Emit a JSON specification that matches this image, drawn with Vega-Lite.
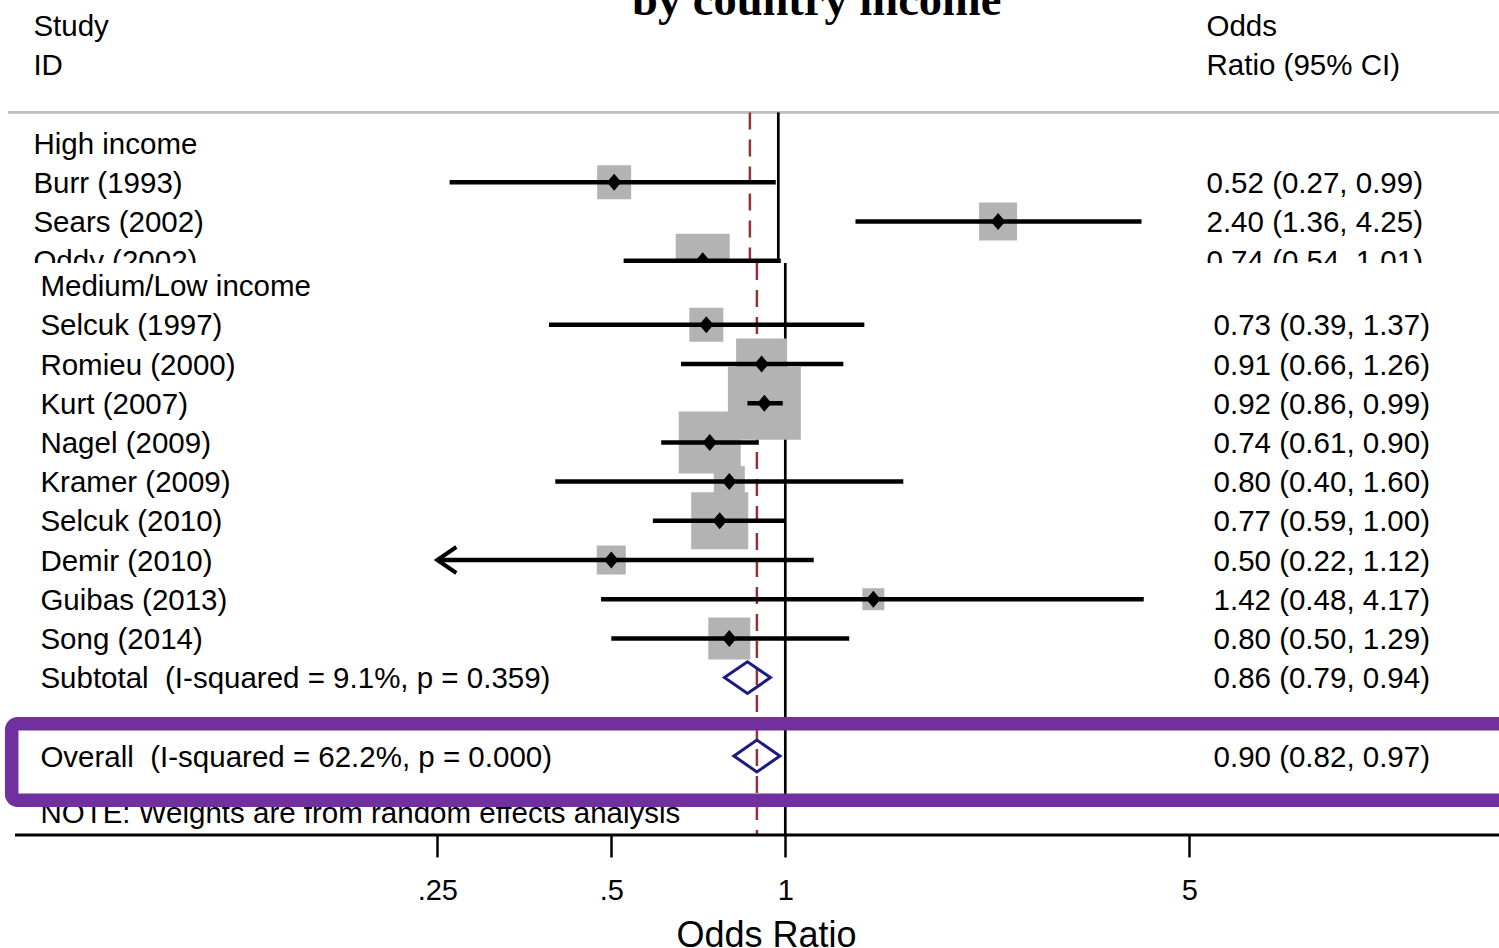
{
  "$schema": "https://vega.github.io/schema/vega-lite/v6.json",
  "padding": 0,
  "autosize": {"type": "pad"},
  "spacing": 0,
  "background": "white",
  "config": {"view": {"stroke": null}, "axis": {"grid": false}},
  "resolve": {"scale": {"x": "independent", "y": "independent"}},
  "datasets": {
    "top": [
      {"row": -3, "label": "Study", "ortext": "Odds", "type": "header"},
      {"row": -2, "label": "ID", "ortext": "Ratio (95% CI)", "type": "header"},
      {"row": 0, "label": "High income", "type": "group"},
      {"row": 1, "label": "Burr (1993)", "ortext": "0.52 (0.27, 0.99)", "es": 0.52, "lo": 0.27, "hi": 0.99, "w": 4.49, "type": "study"},
      {"row": 2, "label": "Sears (2002)", "ortext": "2.40 (1.36, 4.25)", "es": 2.40, "lo": 1.36, "hi": 4.25, "w": 5.61, "type": "study"},
      {"row": 3, "label": "Oddy (2002)", "ortext": "0.74 (0.54, 1.01)", "es": 0.74, "lo": 0.54, "hi": 1.01, "w": 11.33, "type": "study"}
    ],
    "bottom": [
      {"row": 0, "label": "Medium/Low income", "type": "group"},
      {"row": 1, "label": "Selcuk (1997)", "ortext": "0.73 (0.39, 1.37)", "es": 0.73, "lo": 0.39, "hi": 1.37, "w": 4.49, "type": "study"},
      {"row": 2, "label": "Romieu (2000)", "ortext": "0.91 (0.66, 1.26)", "es": 0.91, "lo": 0.66, "hi": 1.26, "w": 10.10, "type": "study"},
      {"row": 3, "label": "Kurt (2007)", "ortext": "0.92 (0.86, 0.99)", "es": 0.92, "lo": 0.86, "hi": 0.99, "w": 20.70, "type": "study"},
      {"row": 4, "label": "Nagel (2009)", "ortext": "0.74 (0.61, 0.90)", "es": 0.74, "lo": 0.61, "hi": 0.90, "w": 14.93, "type": "study"},
      {"row": 5, "label": "Kramer (2009)", "ortext": "0.80 (0.40, 1.60)", "es": 0.80, "lo": 0.40, "hi": 1.60, "w": 3.73, "type": "study"},
      {"row": 6, "label": "Selcuk (2010)", "ortext": "0.77 (0.59, 1.00)", "es": 0.77, "lo": 0.59, "hi": 1.00, "w": 12.62, "type": "study"},
      {"row": 7, "label": "Demir (2010)", "ortext": "0.50 (0.22, 1.12)", "es": 0.50, "lo": 0.22, "hi": 1.12, "w": 3.27, "type": "study"},
      {"row": 8, "label": "Guibas (2013)", "ortext": "1.42 (0.48, 4.17)", "es": 1.42, "lo": 0.48, "hi": 4.17, "w": 1.88, "type": "study"},
      {"row": 9, "label": "Song (2014)", "ortext": "0.80 (0.50, 1.29)", "es": 0.80, "lo": 0.50, "hi": 1.29, "w": 6.85, "type": "study"},
      {"row": 10, "label": "Subtotal \u00a0(I-squared = 9.1%, p = 0.359)", "ortext": "0.86 (0.79, 0.94)", "es": 0.86, "lo": 0.79, "hi": 0.94, "type": "subtotal"},
      {"row": 12, "label": "Overall \u00a0(I-squared = 62.2%, p = 0.000)", "ortext": "0.90 (0.82, 0.97)", "es": 0.893, "lo": 0.82, "hi": 0.97, "type": "overall"},
      {"row": 13.44, "label": "NOTE: Weights are from random effects analysis", "type": "note"}
    ]
  },
  "vconcat": [
    {
      "width": 1499,
      "height": 263,
      "data": {"name": "top"},
      "layer": [
        {
          "data": {"values": [{}]},
          "mark": {"type": "rule", "color": "#bebebe", "strokeWidth": 2.7, "clip": true},
          "encoding": {
            "x": {"datum": 0.04647, "type": "quantitative", "scale": {"type": "log", "domain": [0.045029, 17.654], "nice": false}, "axis": null},
            "x2": {"datum": 17.654},
            "y": {"datum": -0.783, "type": "quantitative", "scale": {"domain": [-3.651, 3.0587], "reverse": true, "nice": false, "zero": false}, "axis": null}
          }
        },
        {
          "data": {"values": [{}]},
          "mark": {"type": "rule", "color": "#000", "strokeWidth": 2.7, "clip": true},
          "encoding": {
            "x": {"datum": 1, "type": "quantitative", "scale": {"type": "log", "domain": [0.045029, 17.654], "nice": false}, "axis": null},
            "y": {"datum": -0.783, "type": "quantitative", "scale": {"domain": [-3.651, 3.0587], "reverse": true, "nice": false, "zero": false}, "axis": null},
            "y2": {"datum": 3.0587}
          }
        },
        {
          "data": {"values": [{}]},
          "mark": {"type": "rule", "color": "#8f3535", "strokeWidth": 2.5, "strokeDash": [17, 10], "clip": true},
          "encoding": {
            "x": {"datum": 0.893, "type": "quantitative", "scale": {"type": "log", "domain": [0.045029, 17.654], "nice": false}, "axis": null},
            "y": {"datum": -0.783, "type": "quantitative", "scale": {"domain": [-3.651, 3.0587], "reverse": true, "nice": false, "zero": false}, "axis": null},
            "y2": {"datum": 3.0587}
          }
        },
        {
          "transform": [{"filter": "datum.type == 'study'"}],
          "mark": {"type": "point", "shape": "square", "filled": true, "color": "#b3b3b3", "opacity": 1, "strokeWidth": 0, "clip": true},
          "encoding": {
            "x": {"field": "es", "type": "quantitative", "scale": {"type": "log", "domain": [0.045029, 17.654], "nice": false}, "axis": null},
            "y": {"field": "row", "type": "quantitative", "scale": {"domain": [-3.651, 3.0587], "reverse": true, "nice": false, "zero": false}, "axis": null},
            "size": {"field": "w", "type": "quantitative", "scale": {"domain": [0, 100], "range": [0, 25745]}, "legend": null}
          }
        },
        {
          "transform": [{"filter": "datum.type == 'study'"}],
          "mark": {"type": "rule", "color": "#000", "strokeWidth": 4.5, "clip": true},
          "encoding": {
            "x": {"field": "lo", "type": "quantitative", "scale": {"type": "log", "domain": [0.045029, 17.654], "nice": false}, "axis": null},
            "x2": {"field": "hi"},
            "y": {"field": "row", "type": "quantitative", "scale": {"domain": [-3.651, 3.0587], "reverse": true, "nice": false, "zero": false}, "axis": null}
          }
        },
        {
          "transform": [{"filter": "datum.type == 'study'"}],
          "mark": {"type": "point", "shape": "M 0 -1 L 0.85 0 L 0 1 L -0.85 0 Z", "size": 289, "filled": true, "color": "#000", "opacity": 1, "clip": true},
          "encoding": {
            "x": {"field": "es", "type": "quantitative", "scale": {"type": "log", "domain": [0.045029, 17.654], "nice": false}, "axis": null},
            "y": {"field": "row", "type": "quantitative", "scale": {"domain": [-3.651, 3.0587], "reverse": true, "nice": false, "zero": false}, "axis": null}
          }
        },
        {
          "mark": {"type": "text", "align": "left", "baseline": "alphabetic", "dy": 10.5, "font": "Liberation Sans", "fontSize": 29.5, "color": "#000", "clip": true},
          "encoding": {
            "x": {"datum": 0.05144, "type": "quantitative", "scale": {"type": "log", "domain": [0.045029, 17.654], "nice": false}, "axis": null},
            "y": {"field": "row", "type": "quantitative", "scale": {"domain": [-3.651, 3.0587], "reverse": true, "nice": false, "zero": false}, "axis": null},
            "text": {"field": "label"}
          }
        },
        {
          "transform": [{"filter": "datum.ortext"}],
          "mark": {"type": "text", "align": "left", "baseline": "alphabetic", "dy": 10.5, "font": "Liberation Sans", "fontSize": 29.5, "color": "#000", "clip": true},
          "encoding": {
            "x": {"datum": 5.506, "type": "quantitative", "scale": {"type": "log", "domain": [0.045029, 17.654], "nice": false}, "axis": null},
            "y": {"field": "row", "type": "quantitative", "scale": {"domain": [-3.651, 3.0587], "reverse": true, "nice": false, "zero": false}, "axis": null},
            "text": {"field": "ortext"}
          }
        },
        {
          "data": {"values": [{"t": "by country income"}]},
          "mark": {"type": "text", "align": "center", "baseline": "alphabetic", "font": "Liberation Serif", "fontWeight": "bold", "fontSize": 46.5, "color": "#000", "clip": true},
          "encoding": {
            "x": {"datum": 1.1653, "type": "quantitative", "scale": {"type": "log", "domain": [0.045029, 17.654], "nice": false}, "axis": null},
            "y": {"datum": -3.268, "type": "quantitative", "scale": {"domain": [-3.651, 3.0587], "reverse": true, "nice": false, "zero": false}, "axis": null},
            "text": {"field": "t"}
          }
        }
      ]
    },
    {
      "width": 1499,
      "height": 572,
      "data": {"name": "bottom"},
      "layer": [
        {
          "data": {"values": [{}]},
          "mark": {"type": "rule", "color": "#000", "strokeWidth": 2.7, "clip": true},
          "encoding": {
            "x": {
              "datum": 1, "type": "quantitative",
              "scale": {"type": "log", "domain": [0.043792, 17.168], "nice": false},
              "axis": {
                "values": [0.25, 0.5, 1, 5],
                "labelExpr": "datum.value < 1 ? substring(format(datum.value, '~g'), 1) : format(datum.value, '~g')",
                "domain": false, "grid": false, "ticks": true, "tickSize": 22, "tickWidth": 2.5, "tickColor": "#000",
                "labelFont": "Liberation Sans", "labelFontSize": 29, "labelColor": "#000", "labelPadding": 19,
                "labelFlush": false, "labelOverlap": false,
                "title": "Odds Ratio", "titleFont": "Liberation Sans", "titleFontSize": 36, "titleFontWeight": "normal",
                "titleColor": "#000", "titleX": 766, "titleY": 111, "titleBaseline": "alphabetic", "titleAlign": "center"
              }
            },
            "y": {"datum": -0.5765, "type": "quantitative", "scale": {"domain": [-0.5765, 14.015], "reverse": true, "nice": false, "zero": false}, "axis": null},
            "y2": {"datum": 14.015}
          }
        },
        {
          "transform": [{"filter": "datum.type == 'overall'"}],
          "mark": {"type": "rule", "color": "#8f3535", "strokeWidth": 2.5, "strokeDash": [17, 10], "clip": true},
          "encoding": {
            "x": {"field": "es", "type": "quantitative", "scale": {"type": "log", "domain": [0.043792, 17.168], "nice": false}},
            "y": {"datum": -0.5765, "type": "quantitative", "scale": {"domain": [-0.5765, 14.015], "reverse": true, "nice": false, "zero": false}, "axis": null},
            "y2": {"datum": 14.015}
          }
        },
        {
          "transform": [{"filter": "datum.type == 'study'"}],
          "mark": {"type": "point", "shape": "square", "filled": true, "color": "#b3b3b3", "opacity": 1, "strokeWidth": 0, "clip": true},
          "encoding": {
            "x": {"field": "es", "type": "quantitative", "scale": {"type": "log", "domain": [0.043792, 17.168], "nice": false}},
            "y": {"field": "row", "type": "quantitative", "scale": {"domain": [-0.5765, 14.015], "reverse": true, "nice": false, "zero": false}, "axis": null},
            "size": {"field": "w", "type": "quantitative", "scale": {"domain": [0, 100], "range": [0, 25745]}, "legend": null}
          }
        },
        {
          "transform": [{"filter": "datum.type == 'study'"}, {"calculate": "max(datum.lo, 0.25)", "as": "lo_c"}],
          "mark": {"type": "rule", "color": "#000", "strokeWidth": 4.5, "clip": true},
          "encoding": {
            "x": {"field": "lo_c", "type": "quantitative", "scale": {"type": "log", "domain": [0.043792, 17.168], "nice": false}},
            "x2": {"field": "hi"},
            "y": {"field": "row", "type": "quantitative", "scale": {"domain": [-0.5765, 14.015], "reverse": true, "nice": false, "zero": false}, "axis": null}
          }
        },
        {
          "transform": [{"filter": "datum.type == 'study'"}],
          "mark": {"type": "point", "shape": "M 0 -1 L 0.85 0 L 0 1 L -0.85 0 Z", "size": 289, "filled": true, "color": "#000", "opacity": 1, "clip": true},
          "encoding": {
            "x": {"field": "es", "type": "quantitative", "scale": {"type": "log", "domain": [0.043792, 17.168], "nice": false}},
            "y": {"field": "row", "type": "quantitative", "scale": {"domain": [-0.5765, 14.015], "reverse": true, "nice": false, "zero": false}, "axis": null}
          }
        },
        {
          "transform": [{"filter": "datum.type == 'study' && datum.lo < 0.25"}],
          "mark": {"type": "point", "shape": "M 1 -0.684 L 0 0 L 1 0.684", "size": 1444, "filled": false, "color": "#000", "strokeWidth": 4, "opacity": 1, "clip": true},
          "encoding": {
            "x": {"datum": 0.25, "type": "quantitative", "scale": {"type": "log", "domain": [0.043792, 17.168], "nice": false}},
            "y": {"field": "row", "type": "quantitative", "scale": {"domain": [-0.5765, 14.015], "reverse": true, "nice": false, "zero": false}, "axis": null}
          }
        },
        {
          "transform": [{"filter": "datum.type == 'subtotal' || datum.type == 'overall'"}],
          "mark": {"type": "point", "shape": "M -1 0 L 0 -0.69 L 1 0 L 0 0.69 Z", "size": 2116, "filled": false, "color": "#1b1b80", "strokeWidth": 3, "opacity": 1, "clip": true},
          "encoding": {
            "x": {"field": "es", "type": "quantitative", "scale": {"type": "log", "domain": [0.043792, 17.168], "nice": false}},
            "y": {"field": "row", "type": "quantitative", "scale": {"domain": [-0.5765, 14.015], "reverse": true, "nice": false, "zero": false}, "axis": null}
          }
        },
        {
          "mark": {"type": "text", "align": "left", "baseline": "alphabetic", "dy": 10.5, "font": "Liberation Sans", "fontSize": 29.5, "color": "#000", "clip": true},
          "encoding": {
            "x": {"datum": 0.05144, "type": "quantitative", "scale": {"type": "log", "domain": [0.043792, 17.168], "nice": false}},
            "y": {"field": "row", "type": "quantitative", "scale": {"domain": [-0.5765, 14.015], "reverse": true, "nice": false, "zero": false}, "axis": null},
            "text": {"field": "label"}
          }
        },
        {
          "transform": [{"filter": "datum.ortext"}],
          "mark": {"type": "text", "align": "left", "baseline": "alphabetic", "dy": 10.5, "font": "Liberation Sans", "fontSize": 29.5, "color": "#000", "clip": true},
          "encoding": {
            "x": {"datum": 5.506, "type": "quantitative", "scale": {"type": "log", "domain": [0.043792, 17.168], "nice": false}},
            "y": {"field": "row", "type": "quantitative", "scale": {"domain": [-0.5765, 14.015], "reverse": true, "nice": false, "zero": false}, "axis": null},
            "text": {"field": "ortext"}
          }
        },
        {
          "data": {"values": [{}]},
          "mark": {"type": "rule", "color": "#000", "strokeWidth": 3},
          "encoding": {
            "x": {"datum": 0.046492, "type": "quantitative", "scale": {"type": "log", "domain": [0.043792, 17.168], "nice": false}},
            "x2": {"datum": 17.168},
            "y": {"datum": 14.015, "type": "quantitative", "scale": {"domain": [-0.5765, 14.015], "reverse": true, "nice": false, "zero": false}, "axis": null}
          }
        },
        {
          "data": {"values": [{}]},
          "mark": {"type": "rect", "filled": false, "color": "#7030a0", "strokeWidth": 13.5, "cornerRadius": 6, "clip": true},
          "encoding": {
            "x": {"datum": 0.04588, "type": "quantitative", "scale": {"type": "log", "domain": [0.043792, 17.168], "nice": false}},
            "x2": {"datum": 30},
            "y": {"datum": 11.177, "type": "quantitative", "scale": {"domain": [-0.5765, 14.015], "reverse": true, "nice": false, "zero": false}, "axis": null},
            "y2": {"datum": 13.129}
          }
        }
      ]
    }
  ]
}
